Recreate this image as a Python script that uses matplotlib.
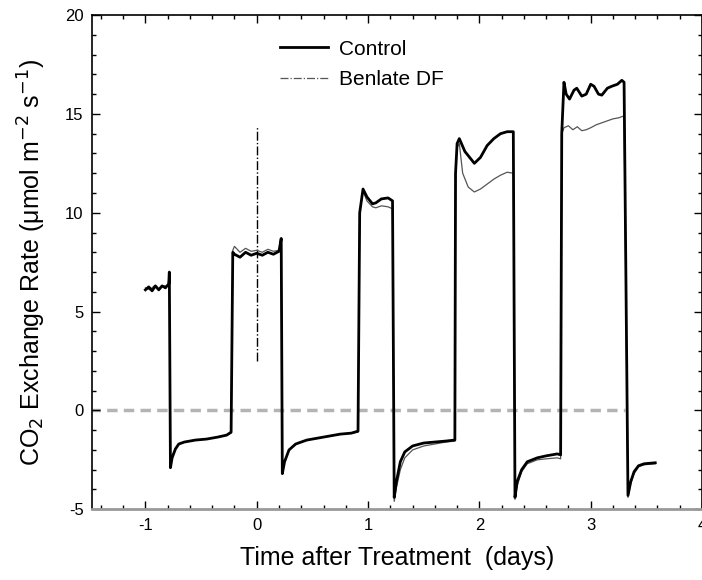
import matplotlib
matplotlib.use("Agg")
import matplotlib.pyplot as plt
from matplotlib.lines import Line2D
from matplotlib.ticker import MultipleLocator

plt.rcParams['font.family'] = ['Liberation Sans', 'DejaVu Sans']
plt.rcParams['axes.unicode_minus'] = False

# light / dark cycles (time in days, rate in umol m-2 s-1)
control_t = [-1.00, -0.97, -0.94, -0.91, -0.88, -0.85, -0.82, -0.79, -0.785,
             -0.775, -0.76, -0.73, -0.70, -0.65, -0.55, -0.45, -0.35, -0.27, -0.23,
             -0.215, -0.20, -0.15, -0.10, -0.05, 0.00, 0.05, 0.10, 0.15, 0.20, 0.22,
             0.23, 0.25, 0.29, 0.35, 0.45, 0.55, 0.65, 0.75, 0.85, 0.91,
             0.925, 0.955, 0.99, 1.04, 1.07, 1.12, 1.18, 1.22,
             1.235, 1.255, 1.29, 1.33, 1.40, 1.50, 1.60, 1.70, 1.78,
             1.786, 1.80, 1.82, 1.87, 1.955, 2.01, 2.07, 2.13, 2.19, 2.25, 2.305,
             2.32, 2.34, 2.38, 2.43, 2.52, 2.60, 2.70, 2.73,
             2.74, 2.76, 2.78, 2.81, 2.85, 2.875, 2.92, 2.96, 3.00, 3.03, 3.07,
             3.10, 3.15, 3.19, 3.24, 3.28, 3.30,
             3.335, 3.36, 3.39, 3.43, 3.48, 3.58]
control_v = [6.1, 6.25, 6.05, 6.3, 6.1, 6.3, 6.2, 6.4, 7.0,
             -2.9, -2.4, -1.95, -1.7, -1.6, -1.5, -1.45, -1.35, -1.25, -1.1,
             8.0, 7.9, 7.75, 8.0, 7.85, 7.95, 7.85, 8.0, 7.9, 8.05, 8.7,
             -3.2, -2.6, -2.0, -1.7, -1.5, -1.4, -1.3, -1.2, -1.15, -1.05,
             10.0, 11.2, 10.8, 10.45, 10.5, 10.7, 10.75, 10.6,
             -4.4, -3.6, -2.6, -2.1, -1.8, -1.65, -1.6, -1.55, -1.5,
             12.0, 13.5, 13.75, 13.1, 12.5, 12.8, 13.4, 13.75, 14.0, 14.1, 14.1,
             -4.4, -3.6, -3.0, -2.6, -2.4, -2.3, -2.2, -2.25,
             14.0, 16.6, 16.0, 15.75, 16.2, 16.3, 15.9, 16.0, 16.5, 16.4, 16.0,
             15.95, 16.3, 16.4, 16.5, 16.7, 16.6,
             -4.3, -3.6, -3.1, -2.8, -2.7, -2.65]

benlate_t = [-1.00, -0.96, -0.92, -0.88, -0.84, -0.80, -0.785,
             -0.775, -0.76, -0.73, -0.70, -0.65, -0.55, -0.45, -0.35, -0.27, -0.23,
             -0.215, -0.20, -0.15, -0.10, -0.05, 0.00, 0.05, 0.10, 0.15, 0.20, 0.22,
             0.23, 0.25, 0.29, 0.35, 0.45, 0.55, 0.65, 0.75, 0.85, 0.91,
             0.925, 0.955, 0.99, 1.04, 1.07, 1.12, 1.18, 1.22,
             1.235, 1.255, 1.29, 1.33, 1.40, 1.50, 1.60, 1.70, 1.78,
             1.786, 1.80, 1.82, 1.85, 1.90, 1.955, 2.01, 2.07, 2.13, 2.19, 2.25, 2.305,
             2.32, 2.34, 2.38, 2.43, 2.52, 2.60, 2.70, 2.73,
             2.74, 2.76, 2.80, 2.84, 2.88, 2.92, 2.96, 3.00, 3.05, 3.10, 3.15,
             3.20, 3.25, 3.30,
             3.335, 3.36, 3.39, 3.43, 3.48, 3.58]
benlate_v = [6.2, 6.1, 6.3, 6.15, 6.3, 6.3, 6.8,
             -2.8, -2.3, -1.9, -1.7, -1.6, -1.5, -1.45, -1.35, -1.25, -1.15,
             8.1, 8.3, 8.0, 8.2, 8.05, 8.1, 8.0, 8.15, 8.05, 8.1, 8.2,
             -3.1, -2.6, -2.0, -1.7, -1.5, -1.4, -1.3, -1.2, -1.15, -1.1,
             10.0, 11.1, 10.6, 10.3, 10.25, 10.35, 10.3, 10.2,
             -4.6, -3.9, -3.0, -2.4, -2.0, -1.8, -1.7, -1.6, -1.55,
             12.0, 13.3, 13.5, 12.0, 11.3, 11.05, 11.2, 11.45, 11.7, 11.9, 12.05, 12.0,
             -4.5, -3.8, -3.1, -2.7, -2.5, -2.45, -2.4, -2.45,
             14.0, 14.3, 14.4, 14.2, 14.35, 14.15, 14.2, 14.3, 14.45, 14.55, 14.65,
             14.75, 14.8, 14.9,
             -4.4, -3.7, -3.2, -2.85, -2.75, -2.7]

treatment_t = 0.0
treatment_span = [2.5, 14.4]
zero_span = [-1.5, 3.31]

xticks = [-1, 0, 1, 2, 3, 4]
yticks = [-5, 0, 5, 10, 15, 20]

fig = plt.figure(figsize=(7.02, 5.80), dpi=100)
ax = fig.add_axes([0.131, 0.122, 0.869, 0.852])

ax.plot(zero_span, [0, 0], color='#b4b4b4', lw=2.5, dashes=(3, 1.8), zorder=1)
ax.plot([treatment_t, treatment_t], treatment_span, color='black', lw=1.0,
        linestyle='-.', zorder=2)
ax.plot(benlate_t, benlate_v, color='#555555', lw=0.9, zorder=3)
ax.plot(control_t, control_v, color='black', lw=2.0, zorder=4)

ax.set_xlim(-1.48, 3.96)
ax.set_ylim(-5, 20)
ax.set_xticks(xticks)
ax.set_yticks(yticks)
ax.xaxis.set_minor_locator(MultipleLocator(0.2))
ax.yaxis.set_minor_locator(MultipleLocator(1))
ax.tick_params(which='both', direction='in', top=True, right=True,
               labelsize=12, width=1)
ax.tick_params(which='major', length=6, pad=6)
ax.tick_params(which='minor', length=3)
ax.spines['bottom'].set_color('#999999')
ax.spines['bottom'].set_linewidth(2)
for side in ['left', 'top', 'right']:
    ax.spines[side].set_linewidth(1.2)

ax.set_xlabel('Time after Treatment  (days)', fontsize=18, labelpad=10)
ax.set_ylabel(r'CO$_2$ Exchange Rate ($\mathregular{\mu}$mol m$^{-2}$ s$^{-1}$)',
              fontsize=18, labelpad=12)

handles = [Line2D([], [], color='black', lw=2.0),
           Line2D([], [], color='#555555', lw=0.9, linestyle='-.')]
ax.legend(handles, ['Control', 'Benlate DF'], loc='upper left',
          bbox_to_anchor=(0.308, 0.95), frameon=False, fontsize=15,
          handlelength=2.3, handletextpad=0.55, labelspacing=0.55,
          borderpad=0, borderaxespad=0)

fig.savefig('out.png', dpi=100)
